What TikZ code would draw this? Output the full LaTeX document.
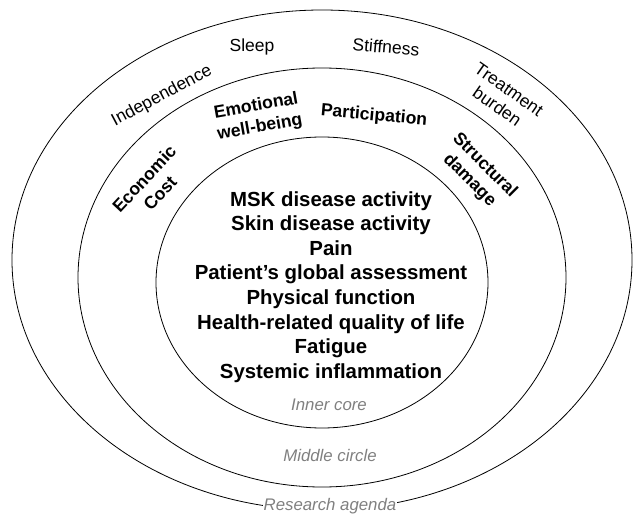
\documentclass[tikz,border=0pt]{standalone}
\usepackage{fontspec}
\setmainfont{Liberation Sans}
\usetikzlibrary{shapes.geometric}
\definecolor{labelgray}{HTML}{808080}
\tikzset{
  ring/.style={draw=black, line width=0.8pt, ellipse, inner sep=0pt, outer sep=0pt},
  corefont/.style={font=\fontsize{20.4}{24.6}\selectfont\bfseries, align=center, inner sep=0pt},
  midlabel/.style={font=\fontsize{17.6}{21.5}\selectfont\bfseries, align=center, inner sep=0pt},
  outlabel/.style={font=\fontsize{17.5}{20.5}\selectfont, align=center, inner sep=0pt},
  ringname/.style={font=\fontsize{16.8}{20}\selectfont\itshape, text=labelgray, inner sep=1pt}
}
\begin{document}
\begin{tikzpicture}[x=1pt, y=-1pt]
\useasboundingbox (0,0) rectangle (633,519);
\fill[white] (0,0) rectangle (633,519);
% rings
\node[ring, minimum width=620pt, minimum height=500pt] (outer) at (322,260) {};
\node[ring, minimum width=488pt, minimum height=419pt] (middle) at (322,277.5) {};
\node[ring, minimum width=332pt, minimum height=291pt] (inner) at (322,282.5) {};
% inner core
\node[corefont] (core) at (331,287) {MSK disease activity\\Skin disease activity\\Pain\\Patient’s global assessment\\Physical function\\Health-related quality of life\\Fatigue\\Systemic inflammation};
% middle circle labels
\node[midlabel, rotate=10] (emo) at (258,117) {Emotional\\well-being};
\node[midlabel, rotate=-5] (part) at (374,116) {Participation};
\node[midlabel, rotate=47] (econ) at (152,186) {Economic\\Cost};
\node[midlabel, rotate=-45] (struct) at (477,173) {Structural\\damage};
% research agenda labels
\node[outlabel, rotate=28] (indep) at (162,96) {Independence};
\node[outlabel] (sleep) at (252,47) {Sleep};
\node[outlabel, rotate=-5] (stiff) at (386,47) {Stiffness};
\node[outlabel, rotate=-35] (treat) at (503,98) {Treatment\\burden};
% ring names
\node[ringname] (innername) at (329,405) {Inner core};
\node[ringname] (midname) at (330,455) {Middle circle};
\node[ringname, fill=white] (outname) at (330,506) {Research agenda};
\end{tikzpicture}
\end{document}
